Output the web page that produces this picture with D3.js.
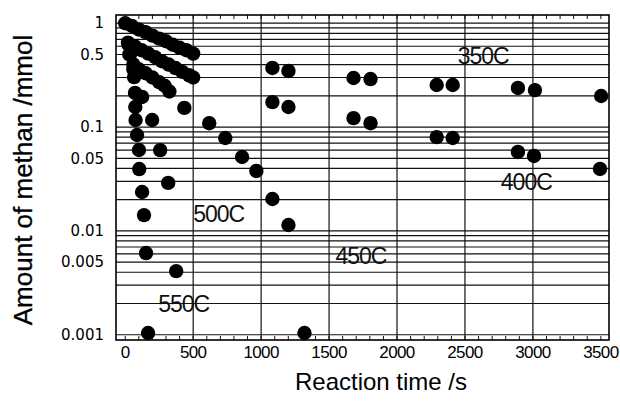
<!DOCTYPE html>
<html>
<head>
<meta charset="utf-8">
<script src="https://cdn.jsdelivr.net/npm/d3@7"></script>
<style>
  body { margin: 0; background: #fff; }
  svg { display: block; }
</style>
</head>
<body>
<svg id="chart" width="620" height="410"></svg>
<script>
(function () {
  'use strict';

  // reaction time (s) and amount of methane (mmol) per temperature
  var t350 = [0, 50, 100, 150, 200, 250, 300, 350, 400, 450, 500, 1083, 1201, 1680, 1805, 2292, 2410, 2890, 3015, 3502];
  var m350 = [1.0, 0.94, 0.87, 0.82, 0.76, 0.71, 0.67, 0.62, 0.58, 0.55, 0.51, 0.371, 0.347, 0.297, 0.290, 0.254, 0.254, 0.238, 0.227, 0.199];

  var t400 = [20, 70, 120, 170, 220, 270, 320, 370, 420, 470, 500, 1083, 1201, 1680, 1805, 2292, 2410, 2890, 3008, 3494];
  var m400 = [0.65, 0.60, 0.55, 0.51, 0.47, 0.43, 0.40, 0.37, 0.34, 0.315, 0.30, 0.174, 0.156, 0.122, 0.109, 0.080, 0.0785, 0.0576, 0.0527, 0.0395];

  var t450 = [30, 60, 100, 150, 200, 250, 290, 325, 435, 618, 736, 860, 965, 1083, 1201, 1319];
  var m450 = [0.50, 0.40, 0.36, 0.33, 0.30, 0.27, 0.25, 0.22, 0.153, 0.109, 0.0785, 0.0515, 0.0378, 0.0203, 0.0114, 0.00104];

  var t500 = [25, 60, 124, 198, 257, 316, 375];
  var m500 = [0.62, 0.36, 0.195, 0.117, 0.060, 0.029, 0.0041];

  var t550 = [35, 65, 72, 74, 76, 87, 101, 103, 124, 138, 153, 168];
  var m550 = [0.50, 0.303, 0.213, 0.156, 0.117, 0.0838, 0.0601, 0.0394, 0.0237, 0.0142, 0.00612, 0.00104];

  var xTicks = [0, 500, 1000, 1500, 2000, 2500, 3000, 3500];
  var xGrid = [500, 1000, 1500, 2000, 2500, 3000];
  var yTicks = [1, 0.5, 0.1, 0.05, 0.01, 0.005, 0.001];
  var yTickLabels = ['1', '0.5', '0.1', '0.05', '0.01', '0.005', '0.001'];

  var tempNames = ['350C', '400C', '450C', '500C', '550C'];
  var tempLabelT = [2447, 2764, 1547, 500, 242];
  var tempLabelM = [0.405, 0.0248, 0.00481, 0.0122, 0.00166];

  var series = [[t350, m350], [t400, m400], [t450, m450], [t500, m500], [t550, m550]];

  var left = 116, right = 609, top = 15, bottom = 340;

  var svg = d3.select('#chart');

  var x = d3.scaleLinear().domain([-68, 3560]).range([left, right]);
  var y = d3.scaleLog().domain([1.2, 0.00089]).range([top, bottom]);

  // log grid: 1..9 in every decade, plus 1
  var yGrid = [];
  [0.001, 0.01, 0.1].forEach(function (d) {
    d3.range(1, 10).forEach(function (i) { yGrid.push(+(i * d).toPrecision(3)); });
  });
  yGrid.push(1);

  var grid = svg.append('g').attr('stroke', '#111').attr('stroke-width', 1.2);

  grid.selectAll('line.h').data(yGrid).enter().append('line')
    .attr('class', 'h')
    .attr('x1', left).attr('x2', right)
    .attr('y1', function (d) { return y(d); })
    .attr('y2', function (d) { return y(d); });

  grid.selectAll('line.v').data(xGrid).enter().append('line')
    .attr('class', 'v')
    .attr('y1', top).attr('y2', bottom)
    .attr('x1', function (d) { return x(d); })
    .attr('x2', function (d) { return x(d); });

  // minor ticks along top and bottom
  var minor = d3.range(0, 3600, 100);
  var ticks = svg.append('g').attr('stroke', '#111').attr('stroke-width', 1);
  ticks.selectAll('line.b').data(minor).enter().append('line')
    .attr('x1', function (d) { return x(d); }).attr('x2', function (d) { return x(d); })
    .attr('y1', bottom).attr('y2', bottom - 4);
  ticks.selectAll('line.t').data(minor).enter().append('line')
    .attr('x1', function (d) { return x(d); }).attr('x2', function (d) { return x(d); })
    .attr('y1', top).attr('y2', top + 4);

  svg.append('rect')
    .attr('x', left).attr('y', top)
    .attr('width', right - left).attr('height', bottom - top)
    .attr('fill', 'none').attr('stroke', '#000').attr('stroke-width', 1.6);

  // points
  var pts = [];
  series.forEach(function (s) {
    s[0].forEach(function (t, i) { pts.push([t, s[1][i]]); });
  });

  svg.append('g').selectAll('circle').data(pts).enter().append('circle')
    .attr('cx', function (d) { return x(d[0]); })
    .attr('cy', function (d) { return y(d[1]); })
    .attr('r', 7.2)
    .attr('fill', '#000');

  // tick labels
  svg.append('g').selectAll('text').data(xTicks).enter().append('text')
    .attr('x', function (d) { return x(d); })
    .attr('y', 358)
    .attr('text-anchor', 'middle')
    .attr('font-family', 'Liberation Sans, Arial, sans-serif')
    .attr('font-size', 17)
    .attr('letter-spacing', -0.6)
    .text(function (d) { return d; });

  svg.append('g').selectAll('text').data(yTicks).enter().append('text')
    .attr('x', 104)
    .attr('y', function (d) { return y(d); })
    .attr('dy', '0.35em')
    .attr('text-anchor', 'end')
    .attr('font-family', 'DejaVu Sans, sans-serif')
    .attr('font-size', 15)
    .text(function (d, i) { return yTickLabels[i]; });

  // temperature labels
  svg.append('g').selectAll('text').data(tempNames).enter().append('text')
    .attr('x', function (d, i) { return x(tempLabelT[i]); })
    .attr('y', function (d, i) { return y(tempLabelM[i]); })
    .attr('font-family', 'Liberation Sans, Arial, sans-serif')
    .attr('font-size', 23)
    .attr('letter-spacing', -1)
    .attr('fill', '#111')
    .text(function (d) { return d; });

  // axis titles
  svg.append('text')
    .attr('x', 381).attr('y', 390)
    .attr('text-anchor', 'middle')
    .attr('font-family', 'Liberation Sans, Arial, sans-serif')
    .attr('font-size', 24)
    .text('Reaction time /s');

  svg.append('text')
    .attr('transform', 'translate(32,180) rotate(-90)')
    .attr('text-anchor', 'middle')
    .attr('font-family', 'Liberation Sans, Arial, sans-serif')
    .attr('font-size', 26)
    .attr('stroke', '#000').attr('stroke-width', 0.3)
    .text('Amount of methan /mmol');
}());
</script>
</body>
</html>
